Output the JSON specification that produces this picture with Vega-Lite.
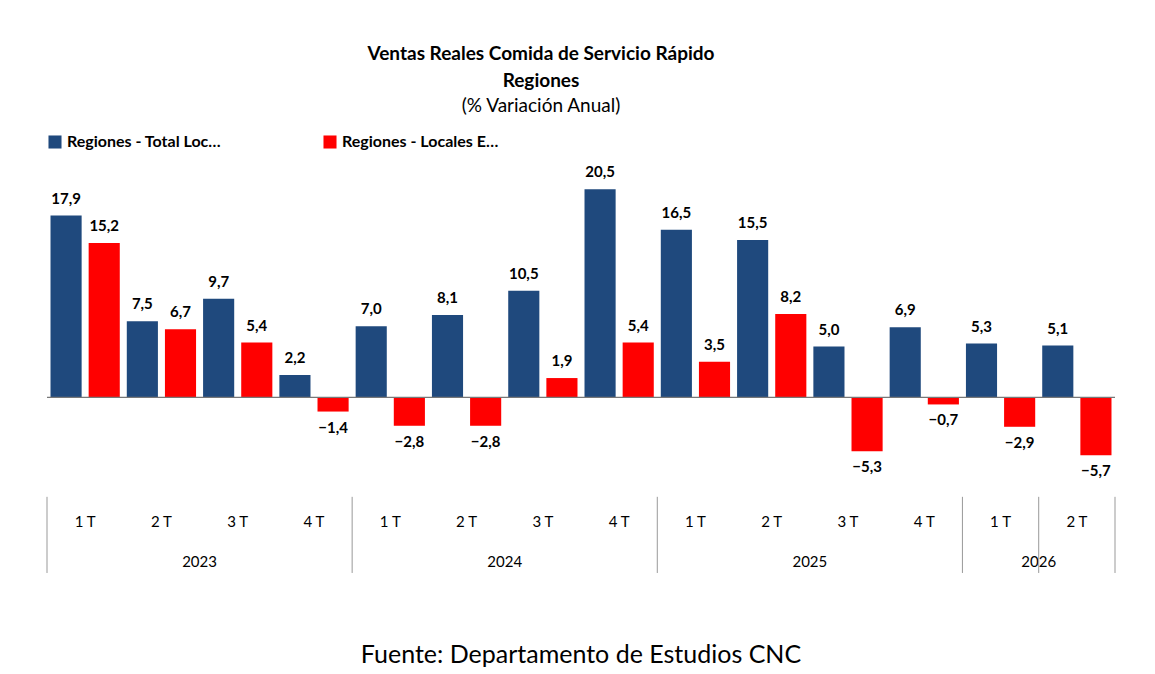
{
  "$schema": "https://vega.github.io/schema/vega-lite/v6.json",
  "width": 1068,
  "height": 401,
  "autosize": "none",
  "padding": {"left": 47, "top": 174, "right": 40, "bottom": 99},
  "background": "white",
  "title": {
    "text": ["Ventas Reales Comida de Servicio Rápido", "Regiones"],
    "subtitle": "(% Variación Anual)",
    "fontSize": 19, "font": "Lato", "fontWeight": "bold", "color": "#000",
    "subtitleFont": "Lato", "subtitleFontSize": 19, "subtitleColor": "#000",
    "lineHeight": 27, "subtitlePadding": 6, "dx": -40, "offset": 18
  },
  "datasets": {
    "bars": [
      {"q": "2023-1", "serie": "Regiones - Total Locales", "v": 17.9},
      {"q": "2023-1", "serie": "Regiones - Locales Equivalentes", "v": 15.2},
      {"q": "2023-2", "serie": "Regiones - Total Locales", "v": 7.5},
      {"q": "2023-2", "serie": "Regiones - Locales Equivalentes", "v": 6.7},
      {"q": "2023-3", "serie": "Regiones - Total Locales", "v": 9.7},
      {"q": "2023-3", "serie": "Regiones - Locales Equivalentes", "v": 5.4},
      {"q": "2023-4", "serie": "Regiones - Total Locales", "v": 2.2},
      {"q": "2023-4", "serie": "Regiones - Locales Equivalentes", "v": -1.4},
      {"q": "2024-1", "serie": "Regiones - Total Locales", "v": 7.0},
      {"q": "2024-1", "serie": "Regiones - Locales Equivalentes", "v": -2.8},
      {"q": "2024-2", "serie": "Regiones - Total Locales", "v": 8.1},
      {"q": "2024-2", "serie": "Regiones - Locales Equivalentes", "v": -2.8},
      {"q": "2024-3", "serie": "Regiones - Total Locales", "v": 10.5},
      {"q": "2024-3", "serie": "Regiones - Locales Equivalentes", "v": 1.9},
      {"q": "2024-4", "serie": "Regiones - Total Locales", "v": 20.5},
      {"q": "2024-4", "serie": "Regiones - Locales Equivalentes", "v": 5.4},
      {"q": "2025-1", "serie": "Regiones - Total Locales", "v": 16.5},
      {"q": "2025-1", "serie": "Regiones - Locales Equivalentes", "v": 3.5},
      {"q": "2025-2", "serie": "Regiones - Total Locales", "v": 15.5},
      {"q": "2025-2", "serie": "Regiones - Locales Equivalentes", "v": 8.2},
      {"q": "2025-3", "serie": "Regiones - Total Locales", "v": 5.0},
      {"q": "2025-3", "serie": "Regiones - Locales Equivalentes", "v": -5.3},
      {"q": "2025-4", "serie": "Regiones - Total Locales", "v": 6.9},
      {"q": "2025-4", "serie": "Regiones - Locales Equivalentes", "v": -0.7},
      {"q": "2026-1", "serie": "Regiones - Total Locales", "v": 5.3},
      {"q": "2026-1", "serie": "Regiones - Locales Equivalentes", "v": -2.9},
      {"q": "2026-2", "serie": "Regiones - Total Locales", "v": 5.1},
      {"q": "2026-2", "serie": "Regiones - Locales Equivalentes", "v": -5.7}
    ],
    "quarters": [
      {"q": "2023-1", "t": "1 T"}, {"q": "2023-2", "t": "2 T"}, {"q": "2023-3", "t": "3 T"}, {"q": "2023-4", "t": "4 T"},
      {"q": "2024-1", "t": "1 T"}, {"q": "2024-2", "t": "2 T"}, {"q": "2024-3", "t": "3 T"}, {"q": "2024-4", "t": "4 T"},
      {"q": "2025-1", "t": "1 T"}, {"q": "2025-2", "t": "2 T"}, {"q": "2025-3", "t": "3 T"}, {"q": "2025-4", "t": "4 T"},
      {"q": "2026-1", "t": "1 T"}, {"q": "2026-2", "t": "2 T"}
    ],
    "years": [
      {"q": "2023-3", "year": "2023"},
      {"q": "2024-3", "year": "2024"},
      {"q": "2025-3", "year": "2025"},
      {"q": "2026-2", "year": "2026"}
    ],
    "seps": [
      {"q": "2023-1", "pos": 0}, {"q": "2024-1", "pos": 0}, {"q": "2025-1", "pos": 0}, {"q": "2026-1", "pos": 0}, {"q": "2026-2", "pos": 1}
    ],
    "footer": [{"q": "2024-4", "t": "Fuente: Departamento de Estudios CNC"}]
  },
  "encoding": {
    "x": {
      "field": "q", "type": "nominal", "axis": null,
      "scale": {
        "domain": ["2023-1","2023-2","2023-3","2023-4","2024-1","2024-2","2024-3","2024-4","2025-1","2025-2","2025-3","2025-4","2026-1","2026-2"],
        "paddingInner": 0, "paddingOuter": 0
      }
    }
  },
  "layer": [
    {
      "data": {"name": "bars"},
      "mark": {"type": "bar"},
      "encoding": {
        "xOffset": {"field": "serie", "type": "nominal", "sort": ["Regiones - Total Locales", "Regiones - Locales Equivalentes"], "scale": {"paddingInner": 0.184, "paddingOuter": 0.092}},
        "y": {"field": "v", "type": "quantitative", "axis": null, "scale": {"domain": [-17.5, 22], "nice": false, "zero": false}},
        "color": {
          "field": "serie", "type": "nominal",
          "scale": {"domain": ["Regiones - Total Locales", "Regiones - Locales Equivalentes"], "range": ["#1F497D", "#FF0000"]},
          "legend": {"title": null, "orient": "top", "direction": "horizontal", "symbolType": "square", "symbolSize": 170, "symbolStrokeWidth": 0, "symbolOpacity": 1, "labelFont": "Lato", "labelFontSize": 16, "labelFontWeight": "bold", "labelColor": "#000", "columnPadding": 100, "offset": 24}
        }
      }
    },
    {
      "data": {"name": "bars"},
      "transform": [{"calculate": "replace(format(datum.v, '.1f'), '.', ',')", "as": "lbl"}, {"filter": "datum.v >= 0"}],
      "mark": {"type": "text", "baseline": "bottom", "dy": -9, "font": "Lato", "fontSize": 15, "fontWeight": "bold", "color": "#000"},
      "encoding": {
        "xOffset": {"field": "serie", "type": "nominal", "sort": ["Regiones - Total Locales", "Regiones - Locales Equivalentes"]},
        "y": {"field": "v", "type": "quantitative"},
        "text": {"field": "lbl"}
      }
    },
    {
      "data": {"name": "bars"},
      "transform": [{"calculate": "replace(format(datum.v, '.1f'), '.', ',')", "as": "lbl"}, {"filter": "datum.v < 0"}],
      "mark": {"type": "text", "baseline": "top", "dy": 9, "font": "Lato", "fontSize": 15, "fontWeight": "bold", "color": "#000"},
      "encoding": {
        "xOffset": {"field": "serie", "type": "nominal", "sort": ["Regiones - Total Locales", "Regiones - Locales Equivalentes"]},
        "y": {"field": "v", "type": "quantitative"},
        "text": {"field": "lbl"}
      }
    },
    {
      "data": {"values": [{}]},
      "mark": {"type": "rule", "color": "#777", "strokeWidth": 1.2},
      "encoding": {"x": null, "y": {"datum": 0}}
    },
    {
      "data": {"name": "quarters"},
      "mark": {"type": "text", "font": "Lato", "fontSize": 15, "color": "#000", "baseline": "middle"},
      "encoding": {"y": {"datum": -12.3}, "text": {"field": "t"}}
    },
    {
      "data": {"name": "years"},
      "mark": {"type": "text", "font": "Lato", "fontSize": 15, "color": "#000", "baseline": "middle"},
      "encoding": {"x": {"field": "q", "type": "nominal", "bandPosition": 0}, "y": {"datum": -16.2}, "text": {"field": "year"}}
    },
    {
      "data": {"name": "seps"},
      "mark": {"type": "rule", "color": "#999", "strokeWidth": 1},
      "encoding": {"x": {"field": "q", "type": "nominal", "bandPosition": 0}, "y": {"datum": -9.8}, "y2": {"datum": -17.3}}
    },
    {
      "data": {"name": "seps"},
      "transform": [{"filter": "datum.pos == 1"}],
      "mark": {"type": "rule", "color": "#999", "strokeWidth": 1},
      "encoding": {"x": {"field": "q", "type": "nominal", "bandPosition": 1}, "y": {"datum": -9.8}, "y2": {"datum": -17.3}}
    },
    {
      "data": {"name": "footer"},
      "mark": {"type": "text", "font": "Lato", "fontSize": 25, "color": "#000", "baseline": "middle"},
      "encoding": {"x": {"field": "q", "type": "nominal", "bandPosition": 0}, "y": {"datum": -25.4}, "text": {"field": "t"}}
    }
  ],
  "config": {"view": {"stroke": null}}
}
